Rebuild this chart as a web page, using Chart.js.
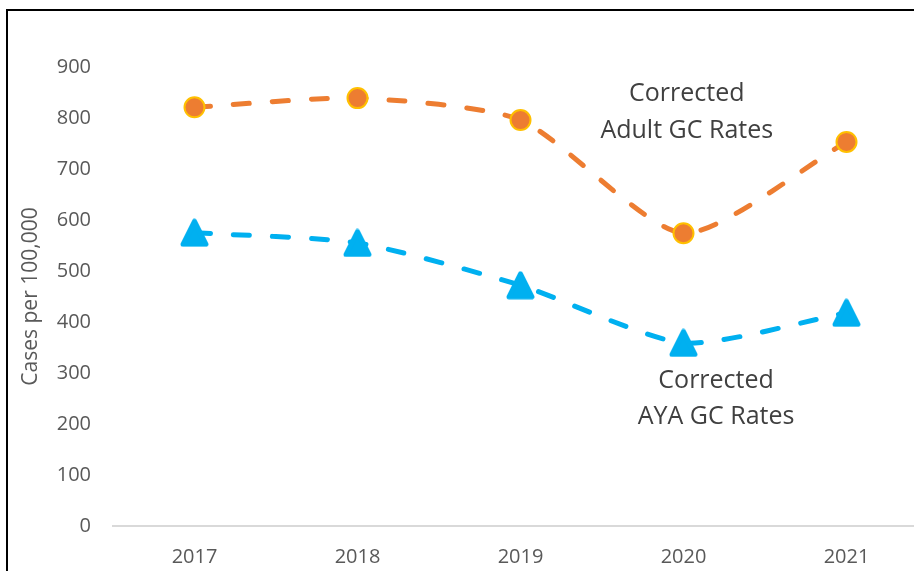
<!DOCTYPE html>
<html>
<head>
<meta charset="utf-8">
<script src="https://cdn.jsdelivr.net/npm/chart.js@4"></script>
<style>
  html, body { margin: 0; padding: 0; background: #fff; overflow: hidden; }
  #frame {
    position: absolute; left: 6px; top: 9px;
    width: 940px; height: 580px;
    border-left: 2px solid #000; border-top: 2px solid #000;
  }
  #chart { position: absolute; left: 0; top: 0; }
</style>
</head>
<body>
<div id="frame"><canvas id="chart" width="932" height="560"></canvas></div>
<script>
// ===============================
// Data
// ===============================
const years = ["2017", "2018", "2019", "2020", "2021"];
const adultRates = [821, 839, 796, 574, 753];
const ayaRates = [575, 555, 472, 359, 418];
const yTicks = [0, 100, 200, 300, 400, 500, 600, 700, 800, 900];

// text labels next to the lines (x = category index, y = value)
const notes = [
  { lines: ["Corrected", "Adult GC Rates"], x: 3.02, y: [848, 775] },
  { lines: ["Corrected", "AYA GC Rates"], x: 3.2, y: [284, 214] }
];

const FONT = "'Open Sans', sans-serif";
const ORANGE = "#ED7D31";
const BLUE = "#00B0F0";

// rounded triangle marker
function makeTriangle(size, color) {
  const c = document.createElement("canvas");
  c.width = size; c.height = size;
  const g = c.getContext("2d");
  const pad = 3;
  g.fillStyle = color;
  g.strokeStyle = color;
  g.lineWidth = 5;
  g.lineJoin = "round";
  g.beginPath();
  g.moveTo(size / 2, pad);
  g.lineTo(size - pad, size - pad);
  g.lineTo(pad, size - pad);
  g.closePath();
  g.fill();
  g.stroke();
  return c;
}

const notePlugin = {
  id: "notes",
  afterDatasetsDraw(chart) {
    const { ctx, scales: { x, y } } = chart;
    ctx.save();
    ctx.fillStyle = "#404040";
    ctx.font = "25px " + FONT;
    ctx.textAlign = "center";
    ctx.textBaseline = "middle";
    notes.forEach(n => {
      const px = x.getPixelForValue(n.x);
      n.lines.forEach((t, i) => ctx.fillText(t, px, y.getPixelForValue(n.y[i])));
    });
    ctx.restore();
  }
};

new Chart(document.getElementById("chart"), {
  type: "line",
  data: {
    labels: years,
    datasets: [
      {
        label: "Corrected Adult GC Rates",
        data: adultRates,
        borderColor: ORANGE,
        borderWidth: 5,
        borderDash: [16, 23],
        borderCapStyle: "round",
        tension: 0.22,
        pointStyle: "circle",
        pointRadius: 10,
        pointBackgroundColor: ORANGE,
        pointBorderColor: "#FFC000",
        pointBorderWidth: 2
      },
      {
        label: "Corrected AYA GC Rates",
        data: ayaRates,
        borderColor: BLUE,
        borderWidth: 5,
        borderDash: [16, 23],
        borderCapStyle: "round",
        tension: 0.22,
        pointStyle: makeTriangle(29, BLUE)
      }
    ]
  },
  options: {
    responsive: false,
    animation: false,
    layout: { padding: { top: 56, left: 0, right: 0, bottom: 0 } },
    plugins: { legend: { display: false }, tooltip: { enabled: false } },
    scales: {
      x: {
        offset: true,
        grid: { display: false, drawTicks: false },
        border: { display: true, color: "#D9D9D9", width: 2 },
        ticks: { color: "#595959", font: { family: FONT, size: 20 }, padding: 19 },
        afterFit: s => { s.height = 45; }
      },
      y: {
        min: 0,
        max: 900,
        afterBuildTicks: s => { s.ticks = yTicks.map(v => ({ value: v })); },
        grid: { display: false, drawTicks: false },
        border: { display: false },
        ticks: { color: "#595959", font: { family: FONT, size: 20 }, padding: 22 },
        title: {
          display: true,
          text: "Cases per 100,000",
          color: "#595959",
          font: { family: FONT, size: 21 },
          padding: { top: 10, bottom: 0 }
        },
        afterFit: s => { s.width = 105; }
      }
    }
  },
  plugins: [notePlugin]
});
</script>
</body>
</html>
